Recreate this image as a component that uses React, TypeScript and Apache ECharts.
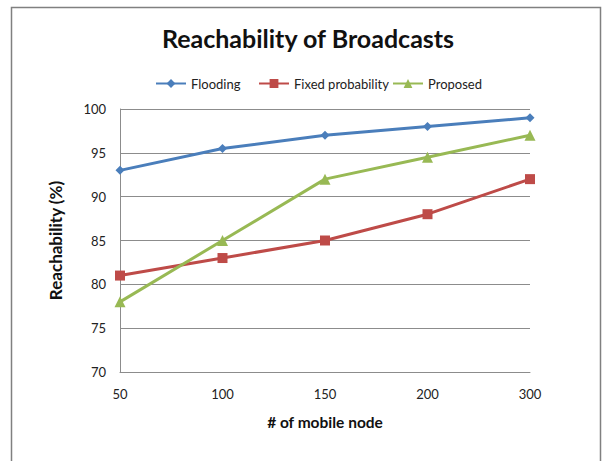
import React, { useEffect, useRef } from "react";
import * as echarts from "echarts";

const categories = ["50", "100", "150", "200", "300"];
const flooding = [93, 95.5, 97, 98, 99];
const fixedProbability = [81, 83, 85, 88, 92];
const proposed = [78, 85, 92, 94.5, 97];
const seriesNames = ["Flooding", "Fixed probability", "Proposed"];

const FONT = "Lato, 'Open Sans', sans-serif";

export default function App() {
  const ref = useRef<HTMLDivElement>(null);
  useEffect(() => {
    if (!ref.current) return;
    const chart = echarts.init(ref.current, null, { renderer: "svg" });
    const mk = (name: string, data: number[], color: string, symbol: string, size: number) => ({
      name,
      type: "line",
      data,
      symbol,
      symbolSize: size,
      showSymbol: true,
      lineStyle: { color, width: 3 },
      itemStyle: { color },
      z: 3,
    });
    const legendLefts = [155, 258, 392];
    const legends = seriesNames.map((n, i) => ({
      data: [n],
      top: 77,
      left: legendLefts[i],
      itemWidth: 30,
      itemHeight: 11,
      itemGap: 0,
      padding: 0,
      textStyle: { fontFamily: FONT, fontSize: 13, color: "#222" },
    }));
    chart.setOption({
      animation: false,
      backgroundColor: "#ffffff",
      textStyle: { fontFamily: FONT },
      title: {
        text: "Reachability of Broadcasts",
        left: 303,
        top: 20,
        textAlign: "center",
        textStyle: { fontFamily: FONT, fontWeight: "bold", fontSize: 25, color: "#111" },
      },
      legend: legends,
      grid: { left: 120, right: 72, top: 109, bottom: 89, containLabel: false },
      xAxis: {
        type: "category",
        data: categories,
        boundaryGap: false,
        name: "# of mobile node",
        nameLocation: "middle",
        nameGap: 42,
        nameTextStyle: { fontFamily: FONT, fontWeight: "bold", fontSize: 15.5, color: "#111" },
        axisLine: { lineStyle: { color: "#8c8c8c", width: 1 } },
        axisTick: { show: false },
        axisLabel: { color: "#222", fontSize: 13, margin: 15, fontFamily: FONT },
        splitLine: { show: false },
      },
      yAxis: {
        type: "value",
        min: 70,
        max: 100,
        interval: 5,
        name: "Reachability (%)",
        nameLocation: "middle",
        nameGap: 56,
        nameTextStyle: { fontFamily: FONT, fontWeight: "bold", fontSize: 17, color: "#111" },
        axisLine: { show: true, lineStyle: { color: "#8c8c8c", width: 1 } },
        axisTick: { show: false },
        axisLabel: { color: "#222", fontSize: 13, margin: 14, fontFamily: FONT },
        splitLine: { lineStyle: { color: "#8c8c8c", width: 1 } },
      },
      graphic: [
        {
          type: "rect",
          shape: { x: 11.5, y: 7.5, width: 589, height: 470 },
          style: { fill: "none", stroke: "#808080", lineWidth: 1.5 },
          silent: true,
        },
      ],
      series: [
        mk(seriesNames[0], flooding, "#4a7ebb", "diamond", 9),
        mk(seriesNames[1], fixedProbability, "#be4b48", "rect", 10),
        mk(seriesNames[2], proposed, "#98b954", "triangle", 11),
      ],
    });
    return () => chart.dispose();
  }, []);
  return (
    <div
      ref={ref}
      style={{ position: "fixed", left: 0, top: 0, width: 602, height: 461 }}
    />
  );
}
